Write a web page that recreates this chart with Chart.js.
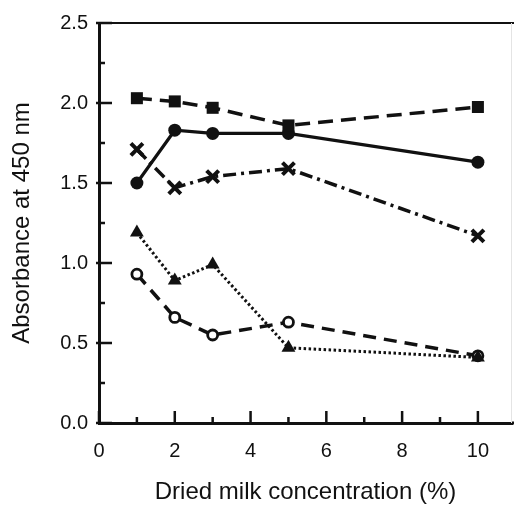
<!DOCTYPE html>
<html>
<head>
<meta charset="utf-8">
<script src="https://cdn.jsdelivr.net/npm/chart.js@4/dist/chart.umd.min.js"></script>
<style>
  html, body { margin: 0; padding: 0; background: #fff; }
  canvas { display: block; }
</style>
</head>
<body>
<canvas id="myChart" width="514" height="505"></canvas>
<script>
// dried milk concentration (%)
const concentrations = [1, 2, 3, 5, 10];

// absorbance at 450 nm for each series
const squares   = [2.03, 2.01, 1.97, 1.86, 1.975];
const circles   = [1.50, 1.83, 1.81, 1.81, 1.63];
const crosses   = [1.71, 1.47, 1.54, 1.59, 1.17];
const triangles = [1.19, 0.89, 0.99, 0.47, 0.41];
const rings     = [0.93, 0.66, 0.55, 0.63, 0.42];

const xMajorTicks = [0, 2, 4, 6, 8, 10];
const xMinorTicks = [1, 3, 5, 7, 9];
const yMajorTicks = [0, 0.5, 1.0, 1.5, 2.0, 2.5];
const yMinorTicks = [0.25, 0.75, 1.25, 1.75, 2.25];

const ink = '#111';
const face = 'Liberation Sans, Arial, sans-serif';

function toPoints(values) {
    return concentrations.map((c, i) => ({ x: c, y: values[i] }));
}

// frame plus inward-facing tick marks
const frameTicks = {
    id: 'frameTicks',
    afterDatasetsDraw(chart) {
        const { ctx, chartArea: a, scales: { x, y } } = chart;
        ctx.save();
        ctx.strokeStyle = ink;
        ctx.lineCap = 'butt';

        // top line
        ctx.lineWidth = 2;
        ctx.beginPath();
        ctx.moveTo(a.left, a.top);
        ctx.lineTo(514, a.top);
        ctx.stroke();

        // faint right edge
        ctx.strokeStyle = '#e4e4e4';
        ctx.lineWidth = 1;
        ctx.beginPath();
        ctx.moveTo(511.5, a.top);
        ctx.lineTo(511.5, a.bottom);
        ctx.stroke();

        ctx.strokeStyle = ink;
        ctx.lineWidth = 2.5;
        ctx.beginPath();
        xMajorTicks.forEach(v => {
            const px = x.getPixelForValue(v);
            ctx.moveTo(px, a.bottom);
            ctx.lineTo(px, a.bottom - 12);
        });
        xMinorTicks.forEach(v => {
            const px = x.getPixelForValue(v);
            ctx.moveTo(px, a.bottom);
            ctx.lineTo(px, a.bottom - 6);
        });
        yMajorTicks.forEach(v => {
            const py = y.getPixelForValue(v);
            ctx.moveTo(a.left - 3, py);
            ctx.lineTo(a.left + 13, py);
        });
        yMinorTicks.forEach(v => {
            const py = y.getPixelForValue(v);
            ctx.moveTo(a.left, py);
            ctx.lineTo(a.left + 6, py);
        });
        ctx.stroke();

        // bottom axis runs on to the edge
        ctx.lineWidth = 3;
        ctx.beginPath();
        ctx.moveTo(a.right, a.bottom);
        ctx.lineTo(514, a.bottom);
        ctx.stroke();
        ctx.restore();
    }
};

const ctx = document.getElementById('myChart');

new Chart(ctx, {
    type: 'scatter',
    data: {
        datasets: [
            {
                label: 'squares',
                data: toPoints(squares),
                showLine: true,
                borderColor: ink,
                backgroundColor: ink,
                borderWidth: 3.5,
                borderDash: [15, 8],
                pointStyle: 'rect',
                pointRadius: 8.5,
                pointBorderWidth: 0
            },
            {
                label: 'filled circles',
                data: toPoints(circles),
                showLine: true,
                borderColor: ink,
                backgroundColor: ink,
                borderWidth: 3.2,
                pointStyle: 'circle',
                pointRadius: 6.5,
                pointBorderWidth: 0
            },
            {
                label: 'crosses',
                data: toPoints(crosses),
                showLine: true,
                borderColor: ink,
                backgroundColor: ink,
                borderWidth: 3.5,
                borderDash: [13, 5, 3, 5],
                pointStyle: 'crossRot',
                pointRadius: 8.5,
                pointBorderWidth: 4
            },
            {
                label: 'triangles',
                data: toPoints(triangles),
                showLine: true,
                borderColor: ink,
                backgroundColor: ink,
                borderWidth: 3,
                borderDash: [2.5, 2.5],
                pointStyle: 'triangle',
                pointRadius: 8,
                pointBorderWidth: 0
            },
            {
                label: 'open circles',
                data: toPoints(rings),
                showLine: true,
                borderColor: ink,
                backgroundColor: '#fff',
                borderWidth: 3.5,
                borderDash: [13, 8],
                pointStyle: 'circle',
                pointRadius: 5,
                pointBorderWidth: 2.8,
                pointBorderColor: ink,
                pointBackgroundColor: '#fff'
            }
        ]
    },
    options: {
        responsive: false,
        animation: false,
        layout: { autoPadding: false, padding: { top: 20, right: 2, left: 0, bottom: 0 } },
        plugins: {
            legend: { display: false },
            tooltip: { enabled: false }
        },
        scales: {
            x: {
                type: 'linear',
                min: 0,
                max: 10.9,
                afterFit: s => { s.height = 82; },
                grid: { display: false, drawTicks: false },
                border: { display: true, color: ink, width: 3 },
                ticks: {
                    stepSize: 2,
                    includeBounds: false,
                    padding: 16,
                    color: ink,
                    font: { family: face, size: 20 }
                },
                title: {
                    display: true,
                    text: 'Dried milk concentration (%)',
                    color: ink,
                    padding: { top: 0, bottom: 1 },
                    font: { family: face, size: 24, lineHeight: 1 }
                }
            },
            y: {
                min: 0,
                max: 2.5,
                afterFit: s => { s.width = 99; },
                grid: { display: false, drawTicks: false },
                border: { display: true, color: ink, width: 3 },
                ticks: {
                    stepSize: 0.5,
                    padding: 11,
                    color: ink,
                    font: { family: face, size: 20 },
                    callback: v => v.toFixed(1)
                },
                title: {
                    display: true,
                    text: 'Absorbance at 450 nm',
                    color: ink,
                    padding: { top: 10, bottom: 0 },
                    font: { family: face, size: 24, lineHeight: 1 }
                }
            }
        }
    },
    plugins: [frameTicks]
});
</script>
</body>
</html>
